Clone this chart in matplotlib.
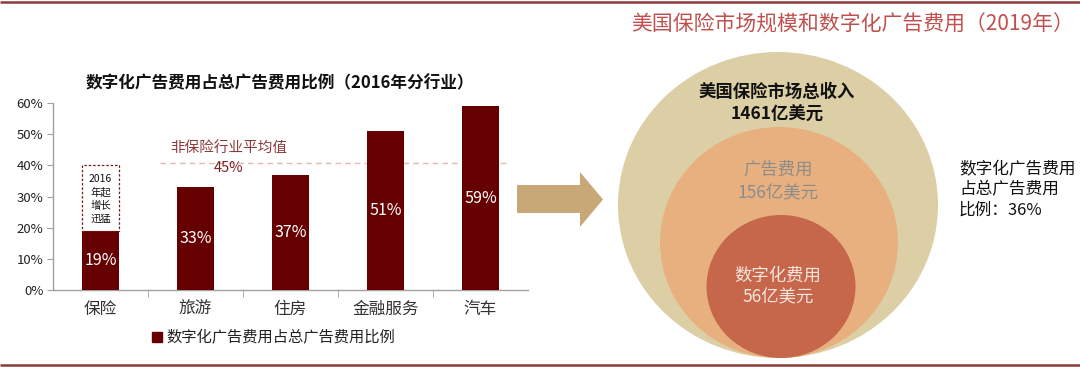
import matplotlib
matplotlib.use("Agg")
import matplotlib.pyplot as plt
from matplotlib.patches import Ellipse, Polygon, Rectangle

plt.rcParams['font.family'] = ['Noto Sans CJK SC', 'DejaVu Sans']

# ---- data ----
categories = ['保险', '旅游', '住房', '金融服务', '汽车']
shares = [19, 33, 37, 51, 59]
bar_labels = ['19%', '33%', '37%', '51%', '59%']
yticks = [0, 10, 20, 30, 40, 50, 60]
ytick_labels = ['0%', '10%', '20%', '30%', '40%', '50%', '60%']
nonins_avg_line = 40.7
nonins_avg_label = '45%'
ins_box_top = 40
left_title = '数字化广告费用占总广告费用比例（2016年分行业）'
legend_label = '数字化广告费用占总广告费用比例'
right_title = '美国保险市场规模和数字化广告费用（2019年）'
market_total = '1461亿美元'
ad_spend = '156亿美元'
digital_spend = '56亿美元'
digital_share = '36%'

W, H = 1080, 367
fig = plt.figure(figsize=(W / 100, H / 100), dpi=100)

bar_color = '#660000'

# ---- overlay axes in pixel coordinates ----
ov = fig.add_axes([0, 0, 1, 1])
ov.set_xlim(0, W)
ov.set_ylim(H, 0)
ov.axis('off')

# frame lines
ov.plot([0, W], [1.5, 1.5], color='#8b3a3a', lw=1.8, solid_capstyle='butt')
ov.plot([0, W], [365, 365], color='#8b3a3a', lw=1.8, solid_capstyle='butt')

# ---- bar chart ----
ax = fig.add_axes([53 / W, 1 - 290 / H, 475 / W, 187 / H])
x = list(range(len(categories)))
ax.bar(x, shares, width=0.39, color=bar_color, zorder=3)
ax.set_xlim(-0.5, len(categories) - 0.5)
ax.set_ylim(0, 60)
ax.set_yticks(yticks)
ax.set_yticklabels(ytick_labels, fontsize=9.5, color='#222222')
ax.set_xticks(x)
ax.set_xticklabels(categories, fontsize=12, color='#333333')
ax.set_xticks([i + 0.5 for i in x[:-1]], minor=True)
ax.tick_params(axis='x', which='major', length=0, pad=8)
ax.tick_params(axis='x', which='minor', length=5, color='#a0a0a0', direction='out')
ax.tick_params(axis='y', length=4, color='#a0a0a0', pad=3)
for s in ['top', 'right']:
    ax.spines[s].set_visible(False)
for s in ['left', 'bottom']:
    ax.spines[s].set_color('#a0a0a0')
    ax.spines[s].set_linewidth(1.0)
ax.patch.set_alpha(0)

for xi, v, lab in zip(x, shares, bar_labels):
    ax.text(xi, v / 2, lab, ha='center', va='center', color='white', fontsize=11.5)

# non-insurance average
ax.plot([0.626, 4.31], [nonins_avg_line, nonins_avg_line], ls=(0, (4, 3)),
        color='#e8b8b0', lw=1.0, zorder=2)
ax.text(1.35, 45.5, '非保险行业平均值', ha='center', va='center', fontsize=10.5,
        color='#8b3a3a')
ax.text(1.35, 39.3, nonins_avg_label, ha='center', va='center', fontsize=10.5,
        color='#7a2020')

# dashed box above insurance bar
ax.add_patch(Rectangle((-0.195, shares[0]), 0.39, ins_box_top - shares[0],
                       fill=False, ls=(0, (2, 1.5)), lw=0.9, edgecolor='#7a1a1a',
                       zorder=4))
ax.text(0, (shares[0] + ins_box_top) / 2 - 0.3, '2016\n年起\n增长\n迅猛', ha='center',
        va='center', fontsize=7.5, color='#111111', linespacing=1.35)

ov.text(280, 83, left_title, ha='center', va='center', fontsize=12,
        fontweight='bold', color='#111111')

# legend
ov.add_patch(Rectangle((152, 332), 10, 10, color=bar_color))
ov.text(166, 337.5, legend_label, ha='left', va='center', fontsize=11,
        color='#222222')

# ---- arrow ----
ov.add_patch(Polygon([(517, 185), (580, 185), (580, 172), (603, 199.5),
                      (580, 227), (580, 213), (517, 213)], closed=True,
                     color='#c9a878', lw=0))

# ---- right panel ----
ov.text(853, 25, right_title, ha='center', va='center', fontsize=15,
        color='#c0504d')
ov.add_patch(Ellipse((778, 205), 320, 306, color='#dccfa6', lw=0))
ov.add_patch(Ellipse((779, 242.5), 238, 231, color='#e8b07f', lw=0))
ov.add_patch(Ellipse((781, 286.5), 149, 143, color='#c6664b', lw=0))

ov.text(777, 92, '美国保险市场总收入', ha='center', va='center', fontsize=12.5,
        fontweight='bold', color='#111111')
ov.text(777, 115, market_total, ha='center', va='center', fontsize=12.5,
        fontweight='bold', color='#111111')
ov.text(778, 170, '广告费用', ha='center', va='center', fontsize=12.5,
        color='#8c8c8c')
ov.text(778, 193, ad_spend, ha='center', va='center', fontsize=12.5,
        color='#8c8c8c')
ov.text(778, 276, '数字化费用', ha='center', va='center', fontsize=12.5,
        color='#f6e6de')
ov.text(778, 297, digital_spend, ha='center', va='center', fontsize=12.5,
        color='#f6e6de')

ov.text(959, 190, '数字化广告费用\n占总广告费用\n比例：' + digital_share, ha='left',
        va='center', fontsize=12, color='#111111', linespacing=1.25)

fig.savefig('out.png', dpi=100)
